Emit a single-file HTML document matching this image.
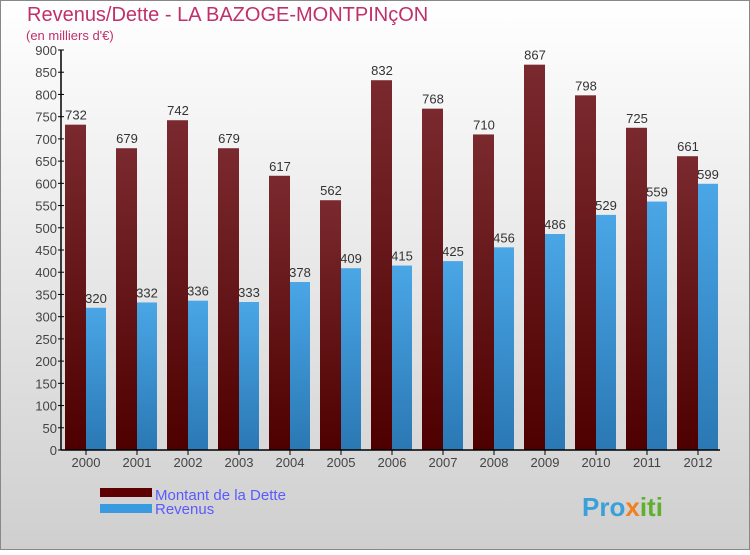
<!DOCTYPE html>
<html><head><meta charset="utf-8"><style>
body{margin:0;width:750px;height:550px;overflow:hidden;font-family:"Liberation Sans",sans-serif}
</style></head><body>
<svg id="c" width="750" height="550" xmlns="http://www.w3.org/2000/svg">
<defs>
<linearGradient id="bg" x1="0" y1="0" x2="0" y2="1"><stop offset="0" stop-color="#ffffff"/><stop offset="1" stop-color="#cfcfcf"/></linearGradient>
<linearGradient id="gd" x1="0" y1="0" x2="0" y2="1"><stop offset="0" stop-color="#7a2a2e"/><stop offset="1" stop-color="#4e0000"/></linearGradient>
<linearGradient id="gr" x1="0" y1="0" x2="0" y2="1"><stop offset="0" stop-color="#4aa6e6"/><stop offset="1" stop-color="#2a78b4"/></linearGradient>
</defs>
<rect x="0.5" y="0.5" width="749" height="549" fill="url(#bg)" stroke="#888"/>
<text x="27" y="21" font-size="20" fill="#c0306a">Revenus/Dette - LA BAZOGE-MONTPINçON</text>
<text x="26" y="40" font-size="13" fill="#c0306a">(en milliers d'€)</text>
<g id="plot"></g>
<rect x="100" y="488" width="52" height="9" fill="#5e0000"/>
<text x="155" y="500" font-size="15" fill="#5a5aff">Montant de la Dette</text>
<rect x="100" y="504" width="52" height="9" fill="#3a9ae0"/>
<text x="155" y="514" font-size="15" fill="#5a5aff">Revenus</text>
<text x="582" y="516" font-size="26" font-weight="bold" fill="#3aa0d8">Pro<tspan fill="#f08020">x</tspan><tspan fill="#60b030">iti</tspan></text>
</svg>
<script>
const years=["2000","2001","2002","2003","2004","2005","2006","2007","2008","2009","2010","2011","2012"];
const dette=[732,679,742,679,617,562,832,768,710,867,798,725,661];
const revenus=[320,332,336,333,378,409,415,425,456,486,529,559,599];
const yTicks=[0,50,100,150,200,250,300,350,400,450,500,550,600,650,700,750,800,850,900];
const NS="http://www.w3.org/2000/svg";
const g=document.getElementById('plot');
const y=v=>450-v*400/900;
const x=i=>86+i*51;
function mk(t,a){const e=document.createElementNS(NS,t);for(const k in a)e.setAttribute(k,a[k]);g.appendChild(e);return e;}
yTicks.forEach(v=>{
 const l=mk('line',{x1:58,x2:64,y1:y(v),y2:y(v),stroke:'#000'});
 
 
 const t=mk('text',{x:57,y:y(v)+5,'text-anchor':'end','font-size':13,fill:'#444'});
 t.textContent=v;
 
 
});
years.forEach((yr,i)=>{
 const b1=mk('rect',{x:x(i)-21,y:y(dette[i]),width:21,height:450-y(dette[i]),fill:'url(#gd)'});
 
 
 const b2=mk('rect',{x:x(i),y:y(revenus[i]),width:20,height:450-y(revenus[i]),fill:'url(#gr)'});
 
 
 const t1=mk('text',{x:x(i)-10,y:y(dette[i])-5,'text-anchor':'middle','font-size':13,fill:'#333'});
 t1.textContent=dette[i];
 
 
 const t2=mk('text',{x:x(i)+10,y:y(revenus[i])-5,'text-anchor':'middle','font-size':13,fill:'#333'});
 t2.textContent=revenus[i];
 
 
 const tk=mk('line',{x1:x(i),x2:x(i),y1:450,y2:455,stroke:'#000'});
 
 
 const xl=mk('text',{x:x(i),y:467,'text-anchor':'middle','font-size':13,fill:'#444'});
 xl.textContent=yr;
 
 
});
const ya=mk('line',{x1:61,x2:61,y1:50,y2:450,stroke:'#000','stroke-width':1.5});


const xa=mk('line',{x1:61,x2:720,y1:450,y2:450,stroke:'#000','stroke-width':1.5});


</script>
</body></html>
